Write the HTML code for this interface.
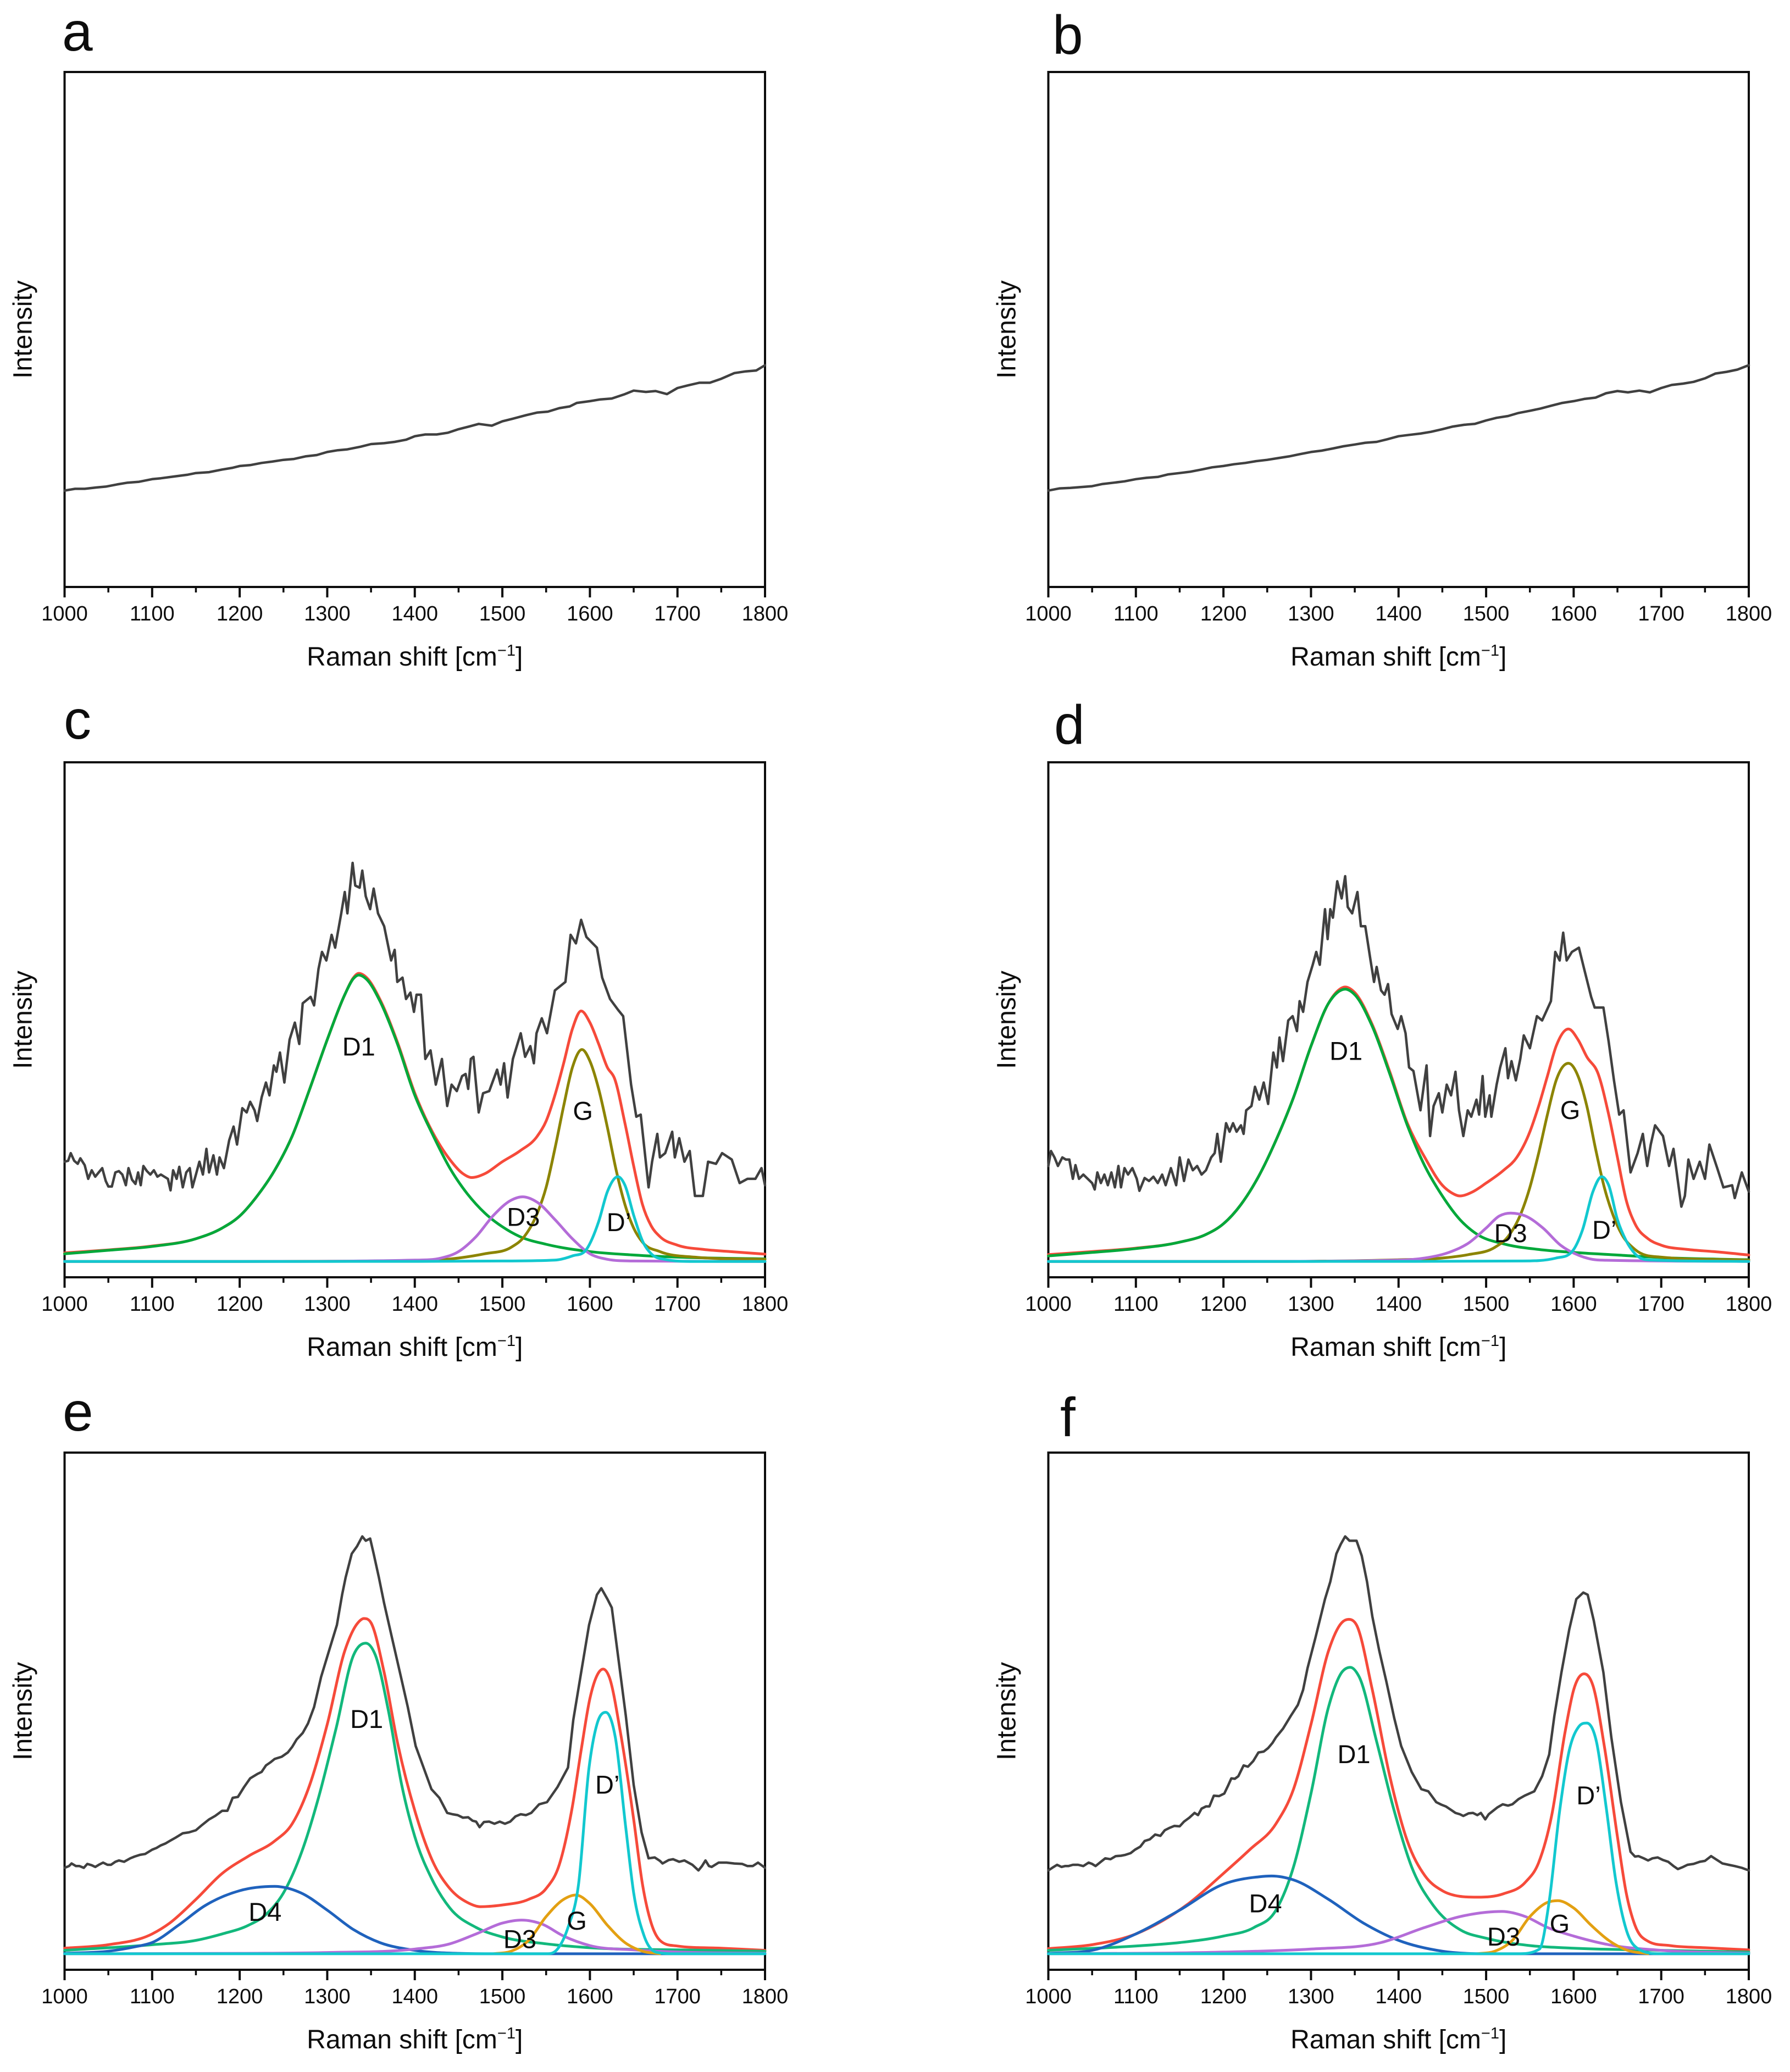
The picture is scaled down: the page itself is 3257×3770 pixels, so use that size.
<!DOCTYPE html>
<html lang="en">
<head>
<meta charset="utf-8">
<title>Raman spectra panels a to f</title>
<style>
html,body{margin:0;padding:0;background:#fff;}
svg{display:block;font-family:"Liberation Sans",sans-serif;}
</style>
</head>
<body>
<svg id="figure" xmlns="http://www.w3.org/2000/svg" width="3257" height="3770" viewBox="0 0 3257 3770"></svg>
<script>
const xMajorTicks = [1000,1100,1200,1300,1400,1500,1600,1700,1800];
const xMinorTicks = [1050,1150,1250,1350,1450,1550,1650,1750];

/* panel a */
const aMeasuredX = [1000,1012,1023,1036,1047,1060,1072,1085,1100,1110,1125,1140,1150,1165,1180,1192,1200,1212,1225,1237,1250,1262,1275,1288,1300,1312,1323,1338,1350,1365,1377,1390,1400,1412,1425,1438,1450,1462,1473,1488,1500,1512,1527,1540,1552,1565,1577,1585,1600,1612,1625,1640,1650,1664,1675,1688,1700,1712,1725,1737,1750,1765,1778,1790,1800];
const aMeasuredY = [220,224,224,227,229,234,238,240,246,248,252,256,260,262,268,272,276,278,283,286,290,292,298,301,308,312,314,320,326,328,331,336,344,348,348,352,360,366,372,368,378,384,392,398,400,408,412,420,424,428,430,440,448,445,447,440,454,460,466,466,475,488,492,494,506];

/* panel b */
const bMeasuredX = [1000,1013,1025,1037,1050,1062,1075,1087,1100,1112,1125,1137,1150,1162,1175,1187,1200,1212,1225,1237,1250,1262,1275,1287,1300,1312,1325,1337,1350,1362,1375,1387,1400,1412,1425,1437,1450,1462,1475,1487,1500,1512,1525,1537,1550,1562,1575,1587,1600,1612,1625,1637,1650,1662,1675,1687,1700,1712,1725,1737,1750,1762,1775,1787,1800];
const bMeasuredY = [220,225,226,228,230,235,238,241,246,249,251,257,260,263,268,273,276,280,283,287,290,294,298,303,308,311,316,321,325,329,331,337,344,347,350,354,360,366,370,372,380,386,390,397,402,407,414,420,424,429,432,442,447,444,448,444,454,461,464,468,476,487,491,496,506];

/* panel c */
const cMeasuredX = [1000,1004,1007,1011,1015,1018,1023,1027,1031,1035,1039,1043,1047,1050,1054,1058,1062,1066,1070,1073,1077,1081,1084,1087,1090,1094,1098,1102,1106,1110,1114,1118,1121,1124,1128,1131,1135,1139,1143,1146,1150,1154,1158,1162,1165,1170,1174,1177,1182,1188,1193,1197,1203,1208,1212,1217,1220,1225,1230,1234,1239,1242,1246,1251,1257,1263,1268,1272,1281,1285,1290,1294,1299,1305,1309,1316,1320,1323,1329,1332,1337,1340,1344,1349,1353,1358,1365,1373,1377,1380,1386,1390,1395,1399,1402,1407,1412,1418,1424,1431,1437,1442,1448,1454,1458,1461,1464,1467,1473,1478,1485,1494,1498,1502,1506,1512,1521,1526,1532,1536,1539,1545,1551,1560,1572,1578,1584,1590,1596,1608,1614,1623,1632,1638,1647,1653,1658,1667,1671,1677,1680,1686,1694,1697,1702,1708,1714,1720,1729,1735,1744,1751,1762,1771,1780,1789,1796,1800];
const cMeasuredY = [270,272,290,272,265,278,262,230,250,235,245,255,225,212,212,245,248,240,215,255,228,218,245,215,260,248,240,250,235,240,235,230,203,250,230,258,210,245,255,210,240,270,240,300,245,285,240,280,255,320,352,310,395,385,410,390,365,420,455,425,495,480,525,455,555,595,545,640,655,635,720,760,740,800,770,850,900,850,968,915,910,950,890,860,908,850,820,740,765,690,700,650,665,620,660,660,510,530,450,510,400,450,435,470,475,440,510,515,385,430,435,485,450,500,420,510,570,515,540,500,570,605,570,670,690,800,780,835,795,770,700,650,625,610,450,375,380,210,270,335,280,290,340,280,325,270,295,190,190,270,265,290,275,220,230,230,255,215];
const cFitTotalX = [1000,1050,1100,1150,1180,1200,1220,1240,1260,1280,1300,1320,1330,1336,1345,1360,1380,1400,1420,1440,1455,1465,1480,1500,1520,1540,1550,1560,1570,1580,1590,1600,1610,1620,1628,1640,1650,1660,1670,1680,1700,1730,1760,1800];
const cFitTotalY = [57,64,73,90,115,143,190,250,330,440,555,660,700,710,700,650,550,430,340,275,242,233,242,270,295,330,365,425,500,580,622,595,545,490,465,360,260,170,120,95,75,65,60,54];
const cD1X = [1000,1050,1100,1150,1180,1200,1220,1240,1260,1280,1300,1320,1330,1336,1345,1360,1380,1400,1420,1440,1460,1480,1500,1520,1550,1600,1650,1700,1800];
const cD1Y = [55,63,72,90,115,143,190,250,330,440,555,660,698,706,696,646,546,425,335,255,195,150,118,95,77,60,52,47,43];
const cGX = [1000,1200,1400,1450,1480,1510,1525,1540,1550,1560,1570,1580,1591,1600,1610,1620,1630,1640,1650,1660,1680,1720,1800];
const cGY = [37,37,38,45,55,70,95,150,210,300,400,490,532,505,440,350,250,170,115,82,60,47,42];
const cD3X = [1000,1200,1400,1430,1450,1470,1490,1510,1523,1540,1560,1580,1600,1620,1650,1800];
const cD3Y = [37,37,40,45,60,95,145,180,188,175,135,90,55,42,38,37];
const cDPrimeX = [1000,1300,1500,1560,1580,1596,1610,1620,1632,1640,1650,1660,1670,1685,1720,1800];
const cDPrimeY = [37,37,38,40,50,65,130,200,235,215,145,85,55,42,37,37];

/* panel d */
const dMeasuredX = [1000,1003,1007,1011,1016,1020,1024,1028,1031,1035,1040,1045,1050,1053,1056,1060,1064,1068,1072,1076,1080,1083,1087,1091,1096,1101,1104,1110,1115,1120,1125,1130,1134,1140,1146,1150,1155,1160,1165,1170,1175,1180,1186,1190,1193,1197,1203,1207,1211,1215,1220,1223,1226,1232,1236,1241,1246,1251,1257,1261,1264,1268,1274,1279,1284,1287,1291,1296,1302,1306,1310,1316,1319,1322,1325,1330,1335,1339,1342,1347,1353,1357,1362,1368,1372,1375,1380,1384,1388,1392,1399,1403,1408,1412,1417,1425,1432,1436,1440,1446,1450,1455,1460,1465,1469,1474,1479,1483,1489,1492,1496,1499,1504,1506,1512,1516,1522,1525,1529,1534,1539,1543,1550,1558,1564,1574,1579,1584,1588,1592,1598,1606,1612,1620,1624,1634,1640,1646,1652,1657,1665,1673,1679,1684,1688,1693,1702,1709,1714,1723,1727,1731,1737,1744,1750,1755,1764,1771,1781,1784,1792,1800];
const dMeasuredY = [260,295,280,260,280,275,275,230,262,230,240,230,220,205,245,220,240,215,245,210,260,210,255,240,255,230,202,232,225,235,220,240,215,255,215,280,225,275,250,260,240,250,280,290,335,270,360,340,360,340,355,335,390,400,445,415,455,405,525,490,560,505,600,610,575,645,620,690,730,760,730,860,790,860,840,925,885,937,865,850,900,820,820,740,690,725,670,660,685,615,580,610,570,490,482,390,495,330,400,430,385,450,425,480,390,330,390,375,415,380,470,375,425,375,450,490,535,465,505,460,510,565,535,610,600,645,760,740,805,740,760,770,720,655,630,630,550,460,380,390,245,290,335,260,310,355,330,260,300,165,190,275,230,270,230,310,255,210,215,185,245,200];
const dFitTotalX = [1000,1050,1100,1150,1180,1200,1220,1240,1260,1280,1300,1320,1330,1339,1350,1370,1390,1410,1430,1450,1460,1470,1485,1500,1520,1535,1550,1560,1570,1580,1594,1605,1615,1628,1640,1650,1660,1670,1685,1700,1730,1760,1800];
const dFitTotalY = [53,60,68,82,100,125,170,235,320,420,540,640,668,678,665,590,480,360,280,215,198,190,200,220,250,280,340,400,470,540,580,555,515,475,380,280,180,125,90,75,65,60,52];
const dD1X = [1000,1050,1100,1150,1180,1200,1220,1240,1260,1280,1300,1320,1330,1339,1350,1370,1390,1410,1430,1450,1470,1490,1520,1560,1600,1650,1700,1800];
const dD1Y = [50,58,67,82,100,125,170,235,320,420,540,640,665,673,660,586,475,355,260,190,135,100,78,65,58,52,46,41];
const dGX = [1000,1200,1400,1450,1480,1510,1525,1540,1550,1560,1570,1580,1594,1605,1615,1625,1635,1645,1655,1670,1700,1800];
const dGY = [37,37,41,45,53,70,95,150,210,290,380,460,500,470,400,300,210,145,100,65,47,40];
const dD3X = [1000,1200,1400,1430,1460,1480,1500,1515,1528,1545,1565,1585,1605,1630,1800];
const dD3Y = [37,37,40,45,60,80,115,143,150,143,115,75,52,40,37];
const dDPrimeX = [1000,1300,1540,1580,1600,1610,1622,1632,1640,1650,1660,1670,1690,1800];
const dDPrimeY = [37,37,38,45,65,110,200,235,215,135,85,55,40,37];

/* panel e */
const eMeasuredX = [1000,1005,1008,1013,1017,1022,1026,1031,1035,1040,1044,1049,1053,1058,1062,1068,1075,1080,1086,1092,1100,1105,1110,1115,1120,1127,1135,1142,1150,1157,1165,1172,1180,1186,1192,1198,1205,1212,1220,1225,1230,1235,1240,1248,1255,1260,1265,1272,1278,1285,1293,1302,1311,1317,1321,1328,1334,1340,1344,1349,1353,1359,1365,1374,1383,1392,1401,1410,1419,1428,1437,1443,1449,1455,1461,1466,1470,1474,1479,1485,1491,1497,1503,1509,1515,1521,1527,1533,1542,1551,1563,1575,1581,1590,1599,1608,1613,1620,1625,1632,1641,1650,1659,1667,1674,1680,1683,1690,1695,1702,1708,1717,1724,1728,1732,1736,1739,1747,1756,1765,1774,1780,1786,1792,1800];
const eMeasuredY = [236,240,246,240,240,236,245,242,238,244,248,243,243,250,253,250,258,262,266,268,278,282,288,292,298,306,316,318,323,335,348,356,368,368,398,400,423,443,453,458,473,480,488,493,503,516,533,548,570,608,678,738,798,868,908,963,980,1003,993,998,963,908,848,768,688,608,518,468,418,398,363,360,358,352,353,345,343,330,342,343,338,343,338,343,355,360,358,363,383,388,423,468,578,688,798,868,883,858,838,728,588,428,318,258,260,252,246,254,256,250,253,243,230,240,253,240,238,248,248,246,245,240,240,248,236];
const eFitTotalX = [1000,1050,1100,1120,1150,1180,1210,1240,1260,1280,1300,1320,1335,1342,1350,1365,1380,1400,1420,1440,1460,1475,1500,1530,1550,1565,1580,1590,1600,1610,1615,1622,1635,1650,1660,1670,1680,1700,1750,1800];
const eFitTotalY = [50,58,83,108,163,223,263,298,338,428,568,738,803,813,803,688,528,368,253,188,156,146,150,163,188,243,378,508,628,688,696,678,548,348,198,108,68,55,50,45];
const eD1X = [1000,1100,1150,1180,1210,1230,1250,1270,1290,1310,1330,1344,1355,1370,1385,1400,1420,1440,1470,1500,1550,1600,1700,1800];
const eD1Y = [45,58,68,83,103,128,178,268,398,558,728,756,728,598,428,308,208,143,98,76,60,51,46,43];
const eD4X = [1000,1050,1080,1100,1130,1160,1200,1240,1270,1300,1330,1360,1400,1450,1500,1800];
const eD4Y = [38,43,53,63,103,148,183,193,178,138,93,63,45,38,37,37];
const eD3X = [1000,1200,1300,1400,1440,1470,1500,1522,1545,1570,1600,1650,1700,1800];
const eD3Y = [37,38,40,48,60,83,108,115,106,78,56,46,41,38];
const eGX = [1490,1510,1530,1550,1570,1584,1600,1620,1640,1660,1680];
const eGY = [37,43,68,123,163,173,153,103,63,43,37];
const eDPrimeX = [1000,1300,1550,1563,1575,1587,1599,1608,1618,1629,1641,1650,1662,1677,1700,1800];
const eDPrimeY = [37,37,37,48,98,198,468,568,596,538,328,178,78,40,37,37];

/* panel f */
const fMeasuredX = [1000,1006,1010,1015,1019,1023,1028,1034,1040,1046,1050,1054,1060,1065,1071,1077,1083,1088,1094,1099,1105,1110,1116,1122,1128,1133,1138,1144,1150,1155,1161,1167,1171,1175,1180,1184,1189,1195,1201,1205,1209,1213,1217,1223,1228,1234,1240,1246,1251,1256,1260,1268,1277,1285,1291,1296,1305,1316,1322,1329,1334,1339,1344,1352,1358,1364,1370,1378,1386,1395,1403,1415,1426,1434,1443,1449,1454,1460,1465,1470,1474,1480,1485,1490,1494,1499,1503,1508,1513,1519,1525,1530,1537,1544,1555,1564,1572,1578,1586,1595,1603,1611,1616,1623,1634,1643,1654,1665,1670,1674,1680,1685,1690,1696,1702,1708,1714,1719,1725,1730,1737,1744,1750,1757,1763,1770,1777,1784,1792,1800];
const fMeasuredY = [230,238,243,238,240,240,243,243,240,248,245,240,250,258,256,263,264,266,270,278,285,298,302,313,310,323,328,333,332,343,352,363,358,373,378,378,403,402,408,425,443,442,448,473,470,483,503,505,513,525,538,558,588,613,648,698,768,858,898,963,985,1003,993,993,958,898,818,738,668,583,518,458,418,413,388,382,378,370,363,360,356,362,363,358,363,348,360,368,376,383,380,383,395,403,413,448,498,588,688,788,858,873,868,808,688,538,388,273,262,263,258,253,258,260,254,250,240,233,238,243,245,250,252,263,255,246,243,240,236,230];
const fFitTotalX = [1000,1050,1100,1130,1160,1200,1230,1260,1280,1300,1320,1335,1343,1352,1370,1390,1410,1430,1450,1470,1490,1520,1545,1560,1575,1590,1600,1612,1622,1635,1650,1660,1670,1685,1710,1750,1800];
const fFitTotalY = [49,58,83,113,153,223,278,338,418,568,738,803,811,798,648,448,298,218,183,170,168,176,203,248,358,548,648,685,658,518,308,178,103,66,56,51,46];
const fD1X = [1000,1100,1150,1200,1235,1260,1280,1300,1320,1335,1345,1355,1375,1395,1415,1440,1470,1500,1550,1600,1700,1800];
const fD1Y = [45,55,63,78,98,138,238,408,608,688,700,678,528,368,238,148,93,73,56,50,45,41];
const fD4X = [1000,1050,1100,1150,1200,1240,1255,1280,1320,1360,1400,1450,1500,1800];
const fD4Y = [38,45,83,138,198,215,217,208,163,108,68,43,37,37];
const fD3X = [1000,1200,1300,1380,1430,1470,1500,1518,1545,1570,1600,1640,1700,1800];
const fD3Y = [37,41,48,63,98,123,133,135,123,98,78,58,45,38];
const fGX = [1490,1510,1530,1550,1570,1582,1600,1620,1640,1660,1685];
const fGY = [37,43,68,123,156,160,143,103,68,46,37];
const fDPrimeX = [1000,1300,1535,1561,1572,1584,1595,1606,1615,1626,1637,1648,1660,1674,1700,1800];
const fDPrimeY = [37,37,37,48,158,368,508,563,571,528,378,208,93,48,37,37];

/* peak labels: text, wavenumber, intensity */
const cLabels = [['D1',1336,518],['G',1592,368],['D3',1524,120],['D’',1633,108]];
const dLabels = [['D1',1340,508],['G',1596,370],['D3',1528,82],['D’',1635,90]];
const eLabels = [['D1',1345,560],['D’',1620,408],['D4',1229,113],['G',1585,93],['D3',1520,50]];
const fLabels = [['D1',1349,478],['D’',1617,383],['D4',1248,133],['D3',1520,56],['G',1584,86]];

const COLORS = {measured:'#404040', total:'#f64a3a', d1a:'#00a83a', d1b:'#12b87c', g1:'#8c8400', g2:'#e3a012', d3:'#b46cd8', dp:'#12c8cf', d4:'#1f62bd'};

const panels = [
  {id:'a', left:117.5, top:131, bottom:1068, max:1175, lx:113, ly:92, labels:[],
   series:[['measured',aMeasuredX,aMeasuredY,COLORS.measured,false]]},
  {id:'b', left:1907.5, top:131, bottom:1068, max:1175, lx:1915, ly:98, labels:[],
   series:[['measured',bMeasuredX,bMeasuredY,COLORS.measured,false]]},
  {id:'c', left:117.5, top:1387, bottom:2324, max:1203, lx:116, ly:1344, labels:cLabels,
   series:[['measured',cMeasuredX,cMeasuredY,COLORS.measured,false],['fit-total',cFitTotalX,cFitTotalY,COLORS.total,true],['d1',cD1X,cD1Y,COLORS.d1a,true],['g',cGX,cGY,COLORS.g1,true],['d3',cD3X,cD3Y,COLORS.d3,true],['d-prime',cDPrimeX,cDPrimeY,COLORS.dp,true]]},
  {id:'d', left:1907.5, top:1387, bottom:2324, max:1203, lx:1918, ly:1353, labels:dLabels,
   series:[['measured',dMeasuredX,dMeasuredY,COLORS.measured,false],['fit-total',dFitTotalX,dFitTotalY,COLORS.total,true],['d1',dD1X,dD1Y,COLORS.d1a,true],['g',dGX,dGY,COLORS.g1,true],['d3',dD3X,dD3Y,COLORS.d3,true],['d-prime',dDPrimeX,dDPrimeY,COLORS.dp,true]]},
  {id:'e', left:117.5, top:2643, bottom:3584, max:1197, lx:114, ly:2603, labels:eLabels,
   series:[['measured',eMeasuredX,eMeasuredY,COLORS.measured,false],['fit-total',eFitTotalX,eFitTotalY,COLORS.total,true],['d1',eD1X,eD1Y,COLORS.d1b,true],['d4',eD4X,eD4Y,COLORS.d4,true],['d3',eD3X,eD3Y,COLORS.d3,true],['g',eGX,eGY,COLORS.g2,true],['d-prime',eDPrimeX,eDPrimeY,COLORS.dp,true]]},
  {id:'f', left:1907.5, top:2643, bottom:3584, max:1197, lx:1929, ly:2613, labels:fLabels,
   series:[['measured',fMeasuredX,fMeasuredY,COLORS.measured,false],['fit-total',fFitTotalX,fFitTotalY,COLORS.total,true],['d1',fD1X,fD1Y,COLORS.d1b,true],['d4',fD4X,fD4Y,COLORS.d4,true],['d3',fD3X,fD3Y,COLORS.d3,true],['g',fGX,fGY,COLORS.g2,true],['d-prime',fDPrimeX,fDPrimeY,COLORS.dp,true]]}
];

const PLOT_WIDTH = 1274.5;
const NS = 'http://www.w3.org/2000/svg';
const fig = document.getElementById('figure');

function make(tag, attrs, parent){
  const el = document.createElementNS(NS, tag);
  for (const k in attrs) el.setAttribute(k, attrs[k]);
  parent.appendChild(el);
  return el;
}

/* monotone cubic path (Fritsch-Carlson tangents) through the data points */
function smoothPath(px, py){
  const n = px.length, d = [], w = [], m = [];
  for (let i = 0; i < n - 1; i++){
    w.push(px[i+1]-px[i]);
    d.push((py[i+1]-py[i])/w[i]);
  }
  m.push(d[0]);
  for (let i = 1; i < n - 1; i++){
    if (d[i-1]*d[i] <= 0){ m.push(0); continue; }
    const t = (d[i-1]*w[i] + d[i]*w[i-1])/(w[i-1]+w[i]);
    const lim = 3*Math.min(Math.abs(d[i-1]), Math.abs(d[i]));
    m.push(Math.sign(t)*Math.min(Math.abs(t), lim));
  }
  m.push(d[n-2]);
  let s = 'M' + px[0].toFixed(1) + ' ' + py[0].toFixed(1);
  for (let i = 0; i < n - 1; i++){
    const h = w[i]/3;
    s += 'C' + (px[i]+h).toFixed(1) + ' ' + (py[i]+m[i]*h).toFixed(1) + ' ' +
         (px[i+1]-h).toFixed(1) + ' ' + (py[i+1]-m[i+1]*h).toFixed(1) + ' ' +
         px[i+1].toFixed(1) + ' ' + py[i+1].toFixed(1);
  }
  return s;
}

function linePath(px, py){
  return px.map((x, i) => (i ? 'L' : 'M') + x.toFixed(1) + ' ' + py[i].toFixed(1)).join('');
}

panels.forEach(p => {
  const xScale = v => p.left + (v - 1000) / 800 * PLOT_WIDTH;
  const yScale = v => p.bottom - v / p.max * (p.bottom - p.top);

  const g = make('g', {}, fig);
  
  

  const letter = make('text', {x:p.lx, y:p.ly, 'font-size':100, fill:'#0d0d0d'}, g);
  letter.textContent = p.id;
  
  

  const frame = make('rect', {x:p.left, y:p.top, width:PLOT_WIDTH, height:p.bottom-p.top, fill:'#fff', stroke:'#0d0d0d', 'stroke-width':4}, g);
  
  

  xMajorTicks.forEach(t => {
    const tick = make('line', {x1:xScale(t), x2:xScale(t), y1:p.bottom, y2:p.bottom+19, stroke:'#0d0d0d', 'stroke-width':4}, g);
    
    
    const lab = make('text', {x:xScale(t), y:p.bottom+61, 'font-size':38, 'text-anchor':'middle', fill:'#0d0d0d'}, g);
    lab.textContent = t;
    
    
  });
  xMinorTicks.forEach(t => {
    const tick = make('line', {x1:xScale(t), x2:xScale(t), y1:p.bottom, y2:p.bottom+10, stroke:'#0d0d0d', 'stroke-width':3.5}, g);
    
    
  });

  const xt = make('text', {x:p.left+PLOT_WIDTH/2, y:p.bottom+143, 'font-size':48, 'text-anchor':'middle', fill:'#0d0d0d'}, g);
  
  
  xt.appendChild(document.createTextNode('Raman shift [cm'));
  const sup = make('tspan', {dy:-18, 'font-size':29}, xt);
  sup.textContent = '−1';
  const close = make('tspan', {dy:18, 'font-size':48}, xt);
  close.textContent = ']';

  const midY = (p.top + p.bottom) / 2;
  const yBase = p.left - 60;
  const yt = make('text', {x:yBase, y:midY, 'font-size':48, 'text-anchor':'middle', fill:'#0d0d0d', transform:'rotate(-90 ' + yBase + ' ' + midY + ')'}, g);
  yt.textContent = 'Intensity';
  
  

  p.series.forEach(s => {
    const px = s[1].map(xScale);
    const py = s[2].map(yScale);
    const path = make('path', {d: s[4] ? smoothPath(px, py) : linePath(px, py), fill:'none', stroke:s[3], 'stroke-width':s[0] === 'measured' ? 4.5 : 5, 'stroke-linejoin':'round', 'stroke-linecap':'round'}, g);
    
    
  });

  p.labels.forEach(l => {
    const t = make('text', {x:xScale(l[1]), y:yScale(l[2]), 'font-size':47, 'text-anchor':'middle', fill:'#0d0d0d'}, g);
    t.textContent = l[0];
    
    
  });
});
</script>
</body>
</html>
